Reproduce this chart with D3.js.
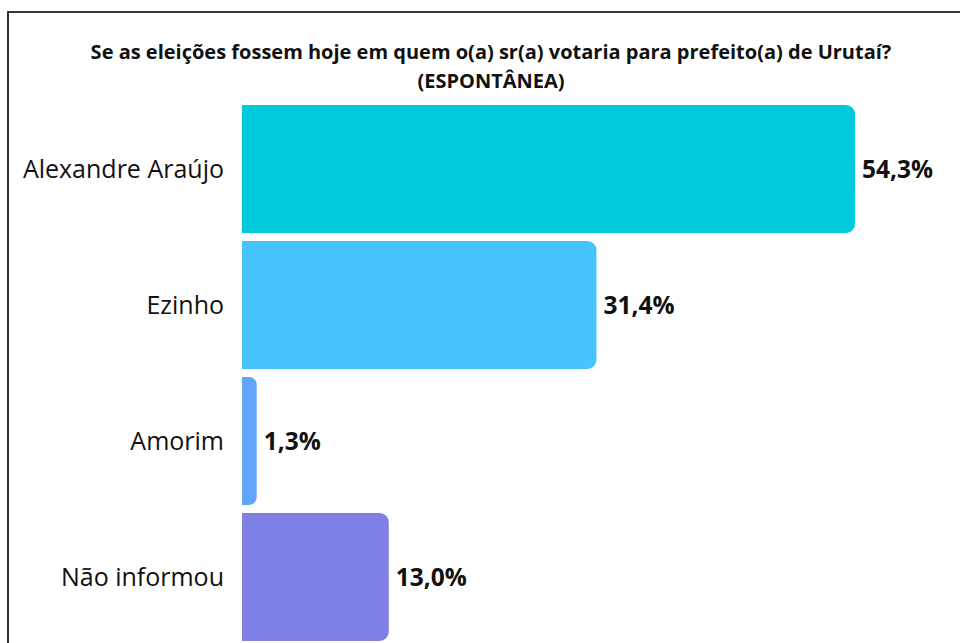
<!DOCTYPE html>
<html>
<head>
<meta charset="utf-8">
<script src="https://cdn.jsdelivr.net/npm/d3@7"></script>
<style>
  body { margin: 0; background: #fff; }
  svg { display: block; font-family: "Open Sans", "Noto Sans", sans-serif; }
</style>
</head>
<body>
<div id="chart"></div>
<script>
// data
var candidates = ["Alexandre Araújo", "Ezinho", "Amorim", "Não informou"];
var percents = [54.3, 31.4, 1.3, 13.0];
var barColors = ["#00C9DB", "#47C3FE", "#62A4F7", "#7E80E6"];
var titleLines = ["Se as eleições fossem hoje em quem o(a) sr(a) votaria para prefeito(a) de Urutaí?", "(ESPONTÂNEA)"];

var width = 960, height = 643;

var svg = d3.select("#chart")
    .append("svg")
    .attr("width", width)
    .attr("height", height);

// frame (top and left edges only)
svg.append("path")
    .attr("d", "M8,643 V12 H960")
    .attr("fill", "none")
    .attr("stroke", "#333")
    .attr("stroke-width", 2);

// title
svg.selectAll(".title")
    .data(titleLines)
    .enter()
    .append("text")
    .attr("class", "title")
    .attr("x", 491)
    .attr("y", function(d, i) { return 59 + i * 29; })
    .attr("text-anchor", "middle")
    .attr("font-size", "20px")
    .attr("font-weight", "bold")
    .attr("fill", "#111")
    .text(function(d) { return d; });

var data = candidates.map(function(c, i) {
  return { name: c, value: percents[i], color: barColors[i] };
});

var x = d3.scaleLinear()
    .domain([0, d3.max(percents)])
    .range([242, 855]);

var y = d3.scaleBand()
    .domain(candidates)
    .range([105, 641])
    .paddingInner(0.06)
    .paddingOuter(0);

// bar with rounded right corners
function barPath(x0, y0, w, h, r) {
  r = Math.min(r, w / 2, h / 2);
  var p = d3.path();
  p.moveTo(x0, y0);
  p.lineTo(x0 + w - r, y0);
  p.arcTo(x0 + w, y0, x0 + w, y0 + r, r);
  p.lineTo(x0 + w, y0 + h - r);
  p.arcTo(x0 + w, y0 + h, x0 + w - r, y0 + h, r);
  p.lineTo(x0, y0 + h);
  p.closePath();
  return p.toString();
}

var rows = svg.selectAll(".row")
    .data(data)
    .enter()
    .append("g")
    .attr("class", "row");

rows.append("path")
    .attr("d", function(d) {
      return barPath(x(0), y(d.name), x(d.value) - x(0), y.bandwidth(), 9);
    })
    .attr("fill", function(d) { return d.color; });

rows.append("text")
    .attr("x", 224)
    .attr("y", function(d) { return y(d.name) + y.bandwidth() / 2; })
    .attr("dy", "0.35em")
    .attr("text-anchor", "end")
    .attr("font-size", "25px")
    .attr("fill", "#111")
    .text(function(d) { return d.name; });

rows.append("text")
    .attr("x", function(d) { return x(d.value) + 7; })
    .attr("y", function(d) { return y(d.name) + y.bandwidth() / 2; })
    .attr("dy", "0.35em")
    .attr("font-size", "24.5px")
    .attr("font-weight", "bold")
    .attr("fill", "#111")
    .text(function(d) { return d.value.toFixed(1).replace(".", ",") + "%"; });
</script>
</body>
</html>
